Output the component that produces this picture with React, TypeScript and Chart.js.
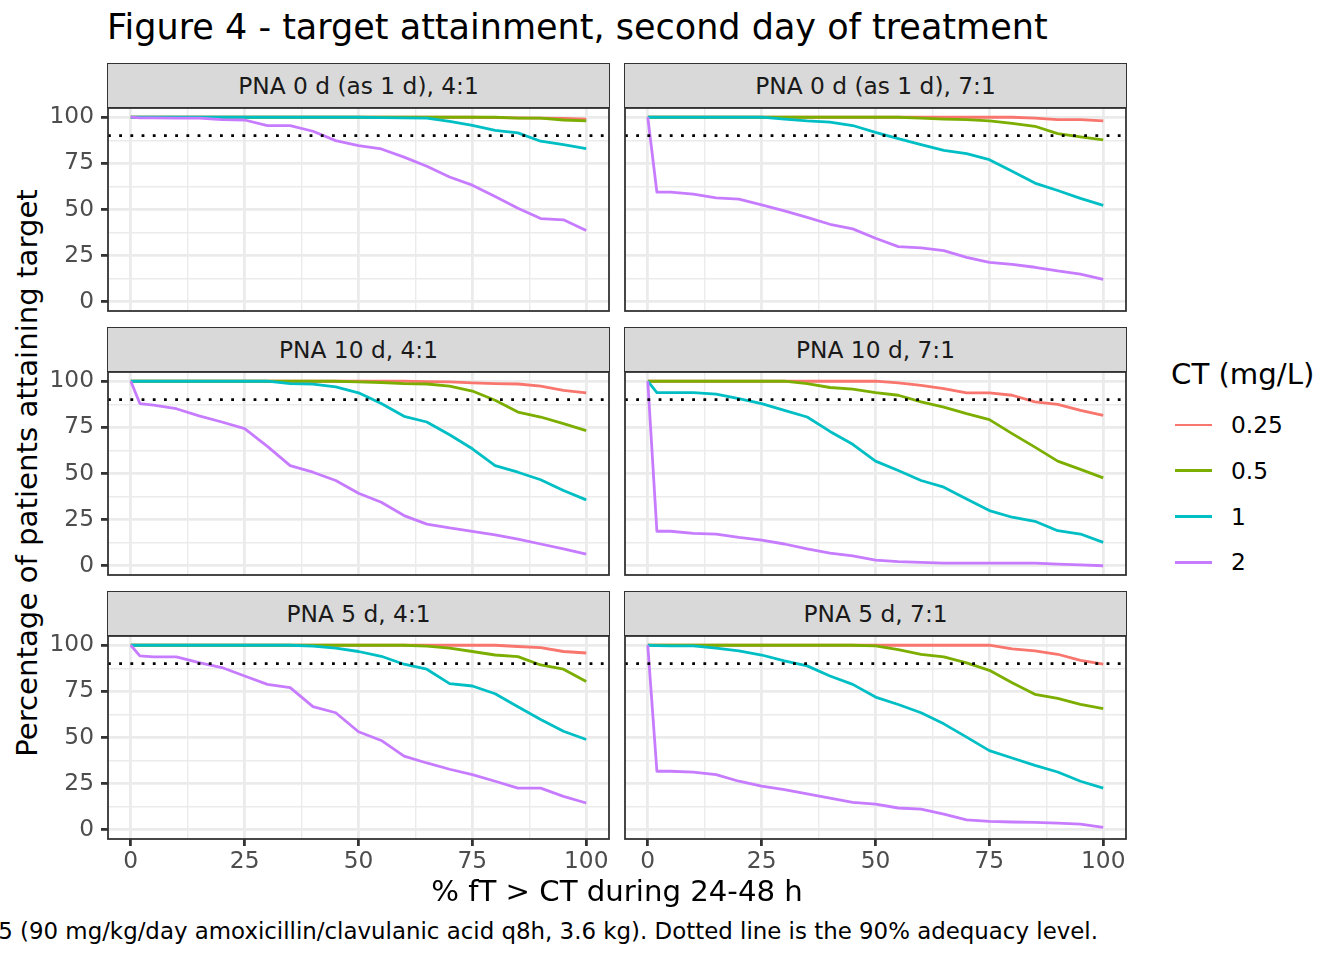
import { useEffect, useRef } from 'react';
import { Chart, registerables } from 'chart.js';

Chart.register(...registerables);

const FONT = "'DejaVu Sans', 'Liberation Sans', sans-serif";

// shared x positions (% fT > CT) at which every curve was read
const X_VALUES = [0, 2, 5, 10, 15, 20, 25, 30, 35, 40, 45, 50, 55, 60, 65, 70, 75, 80, 85, 90, 95, 100];
const GRID_TICKS = [0, 12.5, 25, 37.5, 50, 62.5, 75, 87.5, 100];
const MAJOR_TICKS = [0, 25, 50, 75, 100];
const TARGET = 90;

const CT_LEVELS = ['0.25', '0.5', '1', '2'];
const CT_COLORS = ['#F8766D', '#7CAE00', '#00BFC4', '#C77CFF'];

const PANEL_TITLES = [
  'PNA 0 d (as 1 d), 4:1',
  'PNA 0 d (as 1 d), 7:1',
  'PNA 10 d, 4:1',
  'PNA 10 d, 7:1',
  'PNA 5 d, 4:1',
  'PNA 5 d, 7:1',
];

// PNA 0 d (as 1 d), 4:1
const PNA0_41_C025 = [100, 100, 100, 100, 100, 100, 100, 100, 100, 100, 100, 100, 100, 100, 100, 100, 100, 99.8, 99.6, 99.5, 99.3, 99];
const PNA0_41_C05 = [100, 100, 100, 100, 100, 100, 100, 100, 100, 100, 100, 100, 100, 100, 100, 100, 100, 100, 99.5, 99.5, 98.5, 98];
const PNA0_41_C1 = [100, 100, 100, 100, 100, 100, 100, 100, 100, 100, 100, 100, 99.8, 99.7, 99.5, 97.8, 95.6, 92.9, 91.5, 87, 85.1, 83];
const PNA0_41_C2 = [100, 99.7, 99.6, 99.5, 99.5, 98.7, 98.5, 95.5, 95.5, 92.4, 87.3, 84.6, 82.8, 78.4, 73.4, 67.6, 63.2, 57, 50.7, 45.1, 44.4, 38.6];

// PNA 0 d (as 1 d), 7:1
const PNA0_71_C025 = [100, 100, 100, 100, 100, 100, 100, 100, 100, 100, 100, 100, 100, 100, 100, 100, 100, 100, 99.5, 98.7, 98.7, 98];
const PNA0_71_C05 = [100, 100, 100, 100, 100, 100, 100, 100, 100, 100, 100, 100, 100, 99.5, 99, 98.7, 98, 96.7, 95.1, 91.1, 89.3, 87.7];
const PNA0_71_C1 = [100, 100, 100, 100, 100, 100, 100, 99, 98, 97.3, 95.5, 91.8, 88.4, 85.1, 82, 80.3, 77, 70.7, 64.3, 60.3, 56, 52.2];
const PNA0_71_C2 = [100, 59.4, 59.4, 58.3, 56.3, 55.6, 52.5, 49.3, 45.7, 42, 39.5, 34.4, 29.9, 29.2, 27.7, 24.1, 21.4, 20.3, 18.7, 16.7, 15, 12.1];

// PNA 10 d, 4:1
const PNA10_41_C025 = [100, 100, 100, 100, 100, 100, 100, 100, 100, 100, 100, 100, 100, 100, 99.8, 99.6, 99.1, 98.7, 98.5, 97.3, 95.1, 93.7];
const PNA10_41_C05 = [100, 100, 100, 100, 100, 100, 100, 100, 100, 100, 100, 99.6, 99.3, 98.7, 98.5, 97.3, 94.7, 89.7, 83.3, 80.6, 77, 73.2];
const PNA10_41_C1 = [100, 100, 100, 100, 100, 100, 100, 100, 98.7, 98.4, 96.9, 93.7, 87.9, 81, 77.9, 71, 63.4, 54.3, 50.7, 46.6, 40.8, 35.7];
const PNA10_41_C2 = [100, 87.9, 87.1, 85.1, 81.2, 77.9, 74.3, 64.7, 54.3, 50.7, 46.2, 39.3, 34.4, 27.2, 22.6, 20.5, 18.7, 16.8, 14.5, 11.8, 9.1, 6.3];

// PNA 10 d, 7:1
const PNA10_71_C025 = [100, 100, 100, 100, 100, 100, 100, 100, 100, 100, 100, 100, 99.1, 97.8, 96, 93.7, 93.7, 92.4, 88.8, 87.5, 84.2, 81.5];
const PNA10_71_C05 = [100, 100, 100, 100, 100, 100, 100, 100, 98.7, 96.6, 95.7, 93.8, 92.4, 88.8, 86, 82.4, 79.2, 71.6, 64.3, 56.7, 52.2, 47.6];
const PNA10_71_C1 = [100, 93.8, 93.8, 93.8, 93, 90.6, 87.9, 84.2, 80.6, 72.8, 65.8, 56.7, 51.6, 46.2, 42.6, 36.2, 29.9, 26.3, 24.1, 19, 17.2, 12.7];
const PNA10_71_C2 = [100, 18.7, 18.7, 17.6, 17.2, 15.4, 13.9, 11.8, 9.1, 6.9, 5.4, 3.1, 2.2, 1.8, 1.4, 1.4, 1.4, 1.4, 1.4, 0.9, 0.5, 0];

// PNA 5 d, 4:1
const PNA5_41_C025 = [100, 100, 100, 100, 100, 100, 100, 100, 100, 100, 100, 100, 100, 100, 100, 100, 100, 100, 99.3, 98.7, 96.6, 95.8];
const PNA5_41_C05 = [100, 100, 100, 100, 100, 100, 100, 100, 100, 100, 100, 100, 100, 100, 99.5, 98.4, 96.6, 94.7, 93.8, 89.3, 87, 80.3];
const PNA5_41_C1 = [100, 100, 100, 100, 100, 100, 100, 100, 100, 99.5, 98.4, 96.6, 94, 89.7, 87, 79.2, 77.9, 73.7, 66.7, 59.8, 53.4, 48.9];
const PNA5_41_C2 = [100, 94.2, 93.7, 93.7, 90.6, 87.9, 83.3, 78.8, 77, 66.7, 63.4, 53.1, 48.4, 39.9, 36.2, 32.8, 29.9, 26.3, 22.6, 22.6, 18.1, 14.5];

// PNA 5 d, 7:1
const PNA5_71_C025 = [100, 100, 100, 100, 100, 100, 100, 100, 100, 100, 100, 100, 100, 100, 100, 100, 100, 98, 96.9, 95.1, 91.8, 89.7];
const PNA5_71_C05 = [100, 100, 100, 100, 100, 100, 100, 100, 100, 100, 100, 99.6, 97.6, 95.1, 93.7, 90.4, 86.4, 79.7, 73.4, 71.2, 67.9, 65.6];
const PNA5_71_C1 = [100, 99.8, 99.6, 99.6, 98.4, 96.9, 94.7, 91.5, 88.8, 83.3, 78.8, 71.9, 67.9, 63.4, 57.4, 50.2, 42.9, 38.9, 34.9, 31.3, 26.3, 22.6];
const PNA5_71_C2 = [100, 31.7, 31.7, 31.2, 29.9, 26.3, 23.6, 21.7, 19.4, 17.2, 14.9, 13.9, 11.8, 11.2, 8.5, 5.4, 4.5, 4.2, 4, 3.6, 3.1, 1.3];

const PANEL_SERIES = [
  [PNA0_41_C025, PNA0_41_C05, PNA0_41_C1, PNA0_41_C2],
  [PNA0_71_C025, PNA0_71_C05, PNA0_71_C1, PNA0_71_C2],
  [PNA10_41_C025, PNA10_41_C05, PNA10_41_C1, PNA10_41_C2],
  [PNA10_71_C025, PNA10_71_C05, PNA10_71_C1, PNA10_71_C2],
  [PNA5_41_C025, PNA5_41_C05, PNA5_41_C1, PNA5_41_C2],
  [PNA5_71_C025, PNA5_71_C05, PNA5_71_C1, PNA5_71_C2],
];

// layout of the facet grid (px)
const COL_LEFT = [108, 625];
const ROW_TOP = [108, 372, 636];
const PLOT_W = 501;
const PLOT_H = 203;
const STRIP_H = 45;
const GUTTER_L = 60;
const GUTTER_B = 44;
const PAD = 3;
const LINE_W = 2.8;
const GRID = '#EBEBEB';
const DARK = '#333333';
const SMALL = 23.3;
const LARGE = 29.2;

const isMajor = (v: number) => MAJOR_TICKS.includes(v);

const panelBorder = {
  id: 'panelBorder',
  afterDraw(chart: Chart) {
    const { ctx, chartArea } = chart;
    ctx.save();
    ctx.strokeStyle = DARK;
    ctx.lineWidth = 1.8;
    ctx.strokeRect(chartArea.left, chartArea.top, chartArea.right - chartArea.left, chartArea.bottom - chartArea.top);
    ctx.restore();
  },
};

function axisOptions(show: boolean, axis: 'x' | 'y') {
  return {
    type: 'linear' as const,
    position: axis === 'x' ? ('bottom' as const) : ('left' as const),
    min: -5,
    max: 105,
    afterBuildTicks: (s: any) => {
      s.ticks = GRID_TICKS.map((value) => ({ value }));
    },
    afterFit: (s: any) => {
      if (axis === 'x') s.height = show ? GUTTER_B : 0;
      else s.width = show ? GUTTER_L : 0;
      s.paddingLeft = 0;
      s.paddingRight = 0;
      s.paddingTop = 0;
      s.paddingBottom = 0;
    },
    border: { display: false },
    grid: {
      color: GRID,
      lineWidth: (c: any) => (c.tick && isMajor(c.tick.value) ? LINE_W : LINE_W / 2),
      drawTicks: show,
      tickLength: 7,
      tickWidth: LINE_W,
      tickColor: (c: any) => (c.tick && isMajor(c.tick.value) ? DARK : 'rgba(0,0,0,0)'),
    },
    ticks: {
      display: show,
      autoSkip: false,
      maxRotation: 0,
      minRotation: 0,
      padding: axis === 'x' ? 2 : 7,
      color: '#4D4D4D',
      font: { family: FONT, size: SMALL },
      callback: (v: any) => (isMajor(Number(v)) ? String(v) : ''),
    },
  };
}

function Panel({ index }: { index: number }) {
  const canvasRef = useRef<HTMLCanvasElement | null>(null);
  const col = index % 2;
  const row = Math.floor(index / 2);
  const showY = col === 0;
  const showX = row === 2;
  const gl = showY ? GUTTER_L : 0;
  const gb = showX ? GUTTER_B : 0;
  const width = PLOT_W + gl + PAD * 2;
  const height = PLOT_H + gb + PAD * 2;
  const left = COL_LEFT[col] - gl - PAD;
  const top = ROW_TOP[row] - PAD;

  useEffect(() => {
    const canvas = canvasRef.current;
    if (!canvas) {
      return undefined;
    }
    const series = PANEL_SERIES[index];
    const chart = new Chart(canvas, {
      type: 'line',
      data: {
        datasets: [
          ...CT_LEVELS.map((level, i) => ({
            label: level,
            data: X_VALUES.map((x, j) => ({ x, y: series[i][j] })),
            borderColor: CT_COLORS[i],
            borderWidth: LINE_W,
            borderJoinStyle: 'round' as const,
            pointRadius: 0,
            tension: 0,
            fill: false,
            order: CT_LEVELS.length - i,
          })),
          {
            label: 'target',
            data: [
              { x: -5, y: TARGET },
              { x: 105, y: TARGET },
            ],
            borderColor: '#000000',
            borderWidth: LINE_W,
            borderDash: [LINE_W, LINE_W * 3],
            borderCapStyle: 'butt' as const,
            pointRadius: 0,
            fill: false,
            order: 0,
          },
        ],
      },
      options: {
        animation: false,
        responsive: false,
        events: [],
        layout: { padding: PAD },
        plugins: {
          legend: { display: false },
          tooltip: { enabled: false },
        },
        scales: {
          x: axisOptions(showX, 'x'),
          y: axisOptions(showY, 'y'),
        },
      } as any,
      plugins: [panelBorder],
    });
    return () => {
      chart.destroy();
    };
  }, [index]);

  return (
    <>
      <div
        style={{
          position: 'absolute',
          left: COL_LEFT[col] - 1,
          top: ROW_TOP[row] - STRIP_H - 0.5,
          width: PLOT_W + 2,
          height: STRIP_H,
          boxSizing: 'border-box',
          border: `1.6px solid ${DARK}`,
          background: '#D9D9D9',
          color: '#1A1A1A',
          fontSize: SMALL,
          display: 'flex',
          alignItems: 'center',
          justifyContent: 'center',
        }}
      >
        {PANEL_TITLES[index]}
      </div>
      <canvas
        ref={canvasRef}
        width={width}
        height={height}
        style={{ position: 'absolute', left, top, width, height }}
      />
    </>
  );
}

export default function App() {
  return (
    <div
      style={{
        position: 'absolute',
        left: 0,
        top: 0,
        width: 1344,
        height: 960,
        overflow: 'hidden',
        background: '#FFFFFF',
        fontFamily: FONT,
        color: '#000000',
      }}
    >
      <div style={{ position: 'absolute', left: 107, top: 10, fontSize: 35, lineHeight: 1, whiteSpace: 'nowrap' }}>
        Figure 4 - target attainment, second day of treatment
      </div>

      {PANEL_TITLES.map((_, i) => (
        <Panel key={i} index={i} />
      ))}

      <div
        style={{
          position: 'absolute',
          left: 617 - 300,
          width: 600,
          top: 877,
          fontSize: LARGE,
          lineHeight: 1,
          textAlign: 'center',
          whiteSpace: 'nowrap',
        }}
      >
        % fT &gt; CT during 24-48 h
      </div>

      <div
        style={{
          position: 'absolute',
          left: 27 - 350,
          top: 473 - 15,
          width: 700,
          height: 30,
          fontSize: LARGE,
          lineHeight: '30px',
          textAlign: 'center',
          whiteSpace: 'nowrap',
          transform: 'rotate(-90deg)',
        }}
      >
        Percentage of patients attaining target
      </div>

      <div style={{ position: 'absolute', left: 1171, top: 360, fontSize: LARGE, lineHeight: 1, whiteSpace: 'nowrap' }}>
        CT (mg/L)
      </div>
      {CT_LEVELS.map((level, i) => {
        const cy = 425 + i * 45.8;
        return (
          <div key={level}>
            <div
              style={{
                position: 'absolute',
                left: 1175,
                top: cy - LINE_W / 2,
                width: 37,
                height: LINE_W,
                background: CT_COLORS[i],
              }}
            />
            <div
              style={{
                position: 'absolute',
                left: 1231,
                top: cy - 12,
                fontSize: SMALL,
                lineHeight: '24px',
                whiteSpace: 'nowrap',
              }}
            >
              {level}
            </div>
          </div>
        );
      })}

      <div
        style={{
          position: 'absolute',
          right: 1344 - 1098,
          top: 920,
          fontSize: 22.9,
          lineHeight: 1,
          whiteSpace: 'nowrap',
          textAlign: 'right',
        }}
      >
        5 (90 mg/kg/day amoxicillin/clavulanic acid q8h, 3.6 kg). Dotted line is the 90% adequacy level.
      </div>
    </div>
  );
}
